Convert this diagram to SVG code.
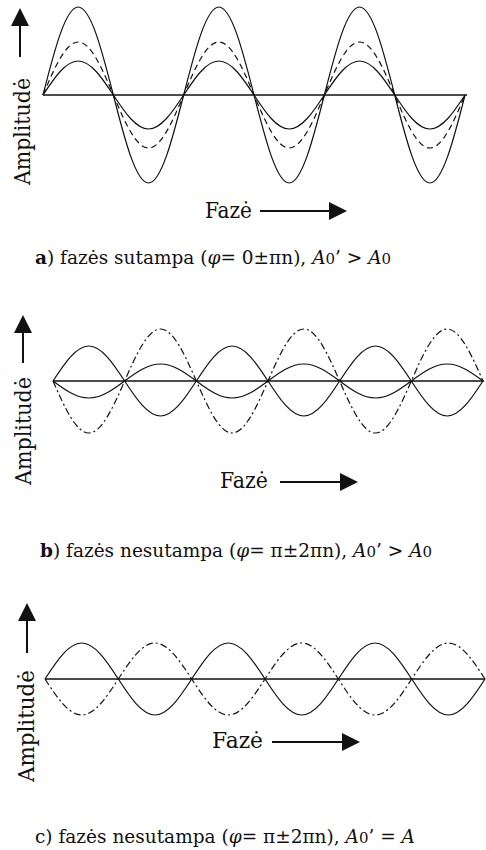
<svg xmlns="http://www.w3.org/2000/svg" width="486" height="850" viewBox="0 0 486 850">
<style>
text{font-family:"DejaVu Serif","Liberation Serif",serif;fill:#111}
.lbl{font-size:22px}
.cap{font-size:18.5px}
.sub{font-size:15px}
.w{fill:none;stroke:#111;stroke-width:1.2}
.dash{stroke-dasharray:6,4}
.dd{stroke-dasharray:7,3,2,3}
.axis{fill:none;stroke:#111;stroke-width:1.5}
.arr{fill:none;stroke:#111;stroke-width:2}
</style>
<defs>
<marker id="head" viewBox="0 0 18 18" refX="0" refY="9" markerWidth="18" markerHeight="18" markerUnits="userSpaceOnUse" orient="auto">
<path d="M0,0 L18,9 L0,18 z" fill="#111"/>
</marker>
</defs>
<rect width="486" height="850" fill="#fff"/>

<g id="panel-a">
<line class="axis" x1="43" y1="95" x2="467" y2="95"/>
<path class="w" d="M43,95 c11.46,-45.04 22.68,-88 35.17,-88 c12.49,0 23.71,42.96 35.17,88 c11.46,45.04 22.68,88 35.17,88 c12.49,0 23.71,-42.96 35.17,-88 c11.46,-45.04 22.68,-88 35.17,-88 c12.49,0 23.71,42.96 35.17,88 c11.46,45.04 22.68,88 35.17,88 c12.49,0 23.71,-42.96 35.17,-88 c11.46,-45.04 22.68,-88 35.17,-88 c12.49,0 23.71,42.96 35.17,88 c11.46,45.04 22.68,88 35.17,88 c12.49,0 23.71,-42.96 35.17,-88"/>
<path class="w dash" d="M43,95 c11.46,-27.13 22.68,-53 35.17,-53 c12.49,0 23.71,25.87 35.17,53 c11.46,27.13 22.68,53 35.17,53 c12.49,0 23.71,-25.87 35.17,-53 c11.46,-27.13 22.68,-53 35.17,-53 c12.49,0 23.71,25.87 35.17,53 c11.46,27.13 22.68,53 35.17,53 c12.49,0 23.71,-25.87 35.17,-53 c11.46,-27.13 22.68,-53 35.17,-53 c12.49,0 23.71,25.87 35.17,53 c11.46,27.13 22.68,53 35.17,53 c12.49,0 23.71,-25.87 35.17,-53"/>
<path class="w" d="M43,95 c11.46,-17.40 22.68,-34 35.17,-34 c12.49,0 23.71,16.60 35.17,34 c11.46,17.40 22.68,34 35.17,34 c12.49,0 23.71,-16.60 35.17,-34 c11.46,-17.40 22.68,-34 35.17,-34 c12.49,0 23.71,16.60 35.17,34 c11.46,17.40 22.68,34 35.17,34 c12.49,0 23.71,-16.60 35.17,-34 c11.46,-17.40 22.68,-34 35.17,-34 c12.49,0 23.71,16.60 35.17,34 c11.46,17.40 22.68,34 35.17,34 c12.49,0 23.71,-16.60 35.17,-34"/>
<text class="lbl" transform="translate(30,185) rotate(-90)" textLength="107" lengthAdjust="spacingAndGlyphs">Amplitudė</text>
<text class="lbl" x="205" y="218" textLength="47" lengthAdjust="spacingAndGlyphs">Fazė</text>
<text class="cap" x="35" y="264"><tspan font-weight="bold">a</tspan>) fazės sutampa (<tspan font-style="italic">φ</tspan>= 0±πn), <tspan font-style="italic">A</tspan><tspan class="sub">0</tspan>’ &gt; <tspan font-style="italic">A</tspan><tspan class="sub">0</tspan></text>
</g>

<g id="panel-b">
<line class="axis" x1="53" y1="381" x2="484" y2="381"/>
<path class="w" d="M53,381 c11.67,-17.91 23.11,-35 35.83,-35 c12.72,0 24.16,17.09 35.83,35 c11.67,17.91 23.11,35 35.83,35 c12.72,0 24.16,-17.09 35.83,-35 c11.67,-17.91 23.11,-35 35.83,-35 c12.72,0 24.16,17.09 35.83,35 c11.67,17.91 23.11,35 35.83,35 c12.72,0 24.16,-17.09 35.83,-35 c11.67,-17.91 23.11,-35 35.83,-35 c12.72,0 24.16,17.09 35.83,35 c11.67,17.91 23.11,35 35.83,35 c12.72,0 24.16,-17.09 35.83,-35"/>
<path class="w dd" d="M53,381 c11.67,26.61 23.11,52 35.83,52 c12.72,0 24.16,-25.39 35.83,-52 c11.67,-26.61 23.11,-52 35.83,-52 c12.72,0 24.16,25.39 35.83,52 c11.67,26.61 23.11,52 35.83,52 c12.72,0 24.16,-25.39 35.83,-52 c11.67,-26.61 23.11,-52 35.83,-52 c12.72,0 24.16,25.39 35.83,52 c11.67,26.61 23.11,52 35.83,52 c12.72,0 24.16,-25.39 35.83,-52 c11.67,-26.61 23.11,-52 35.83,-52 c12.72,0 24.16,25.39 35.83,52"/>
<path class="w" d="M53,381 c11.67,8.70 23.11,17 35.83,17 c12.72,0 24.16,-8.30 35.83,-17 c11.67,-8.70 23.11,-17 35.83,-17 c12.72,0 24.16,8.30 35.83,17 c11.67,8.70 23.11,17 35.83,17 c12.72,0 24.16,-8.30 35.83,-17 c11.67,-8.70 23.11,-17 35.83,-17 c12.72,0 24.16,8.30 35.83,17 c11.67,8.70 23.11,17 35.83,17 c12.72,0 24.16,-8.30 35.83,-17 c11.67,-8.70 23.11,-17 35.83,-17 c12.72,0 24.16,8.30 35.83,17"/>
<text class="lbl" transform="translate(31,485) rotate(-90)" textLength="108" lengthAdjust="spacingAndGlyphs">Amplitudė</text>
<text class="lbl" x="220" y="488" textLength="48" lengthAdjust="spacingAndGlyphs">Fazė</text>
<text class="cap" x="40" y="557"><tspan font-weight="bold">b</tspan>) fazės nesutampa (<tspan font-style="italic">φ</tspan>= π±2πn), <tspan font-style="italic">A</tspan><tspan class="sub">0</tspan>’ &gt; <tspan font-style="italic">A</tspan><tspan class="sub">0</tspan></text>
</g>

<g id="panel-c">
<line class="axis" x1="45" y1="679" x2="485" y2="679"/>
<path class="w" d="M45,679 c11.95,-18.42 23.65,-36 36.67,-36 c13.02,0 24.72,17.58 36.67,36 c11.95,18.42 23.65,36 36.67,36 c13.02,0 24.72,-17.58 36.67,-36 c11.95,-18.42 23.65,-36 36.67,-36 c13.02,0 24.72,17.58 36.67,36 c11.95,18.42 23.65,36 36.67,36 c13.02,0 24.72,-17.58 36.67,-36 c11.95,-18.42 23.65,-36 36.67,-36 c13.02,0 24.72,17.58 36.67,36 c11.95,18.42 23.65,36 36.67,36 c13.02,0 24.72,-17.58 36.67,-36"/>
<path class="w dd" d="M45,679 c11.95,18.42 23.65,36 36.67,36 c13.02,0 24.72,-17.58 36.67,-36 c11.95,-18.42 23.65,-36 36.67,-36 c13.02,0 24.72,17.58 36.67,36 c11.95,18.42 23.65,36 36.67,36 c13.02,0 24.72,-17.58 36.67,-36 c11.95,-18.42 23.65,-36 36.67,-36 c13.02,0 24.72,17.58 36.67,36 c11.95,18.42 23.65,36 36.67,36 c13.02,0 24.72,-17.58 36.67,-36 c11.95,-18.42 23.65,-36 36.67,-36 c13.02,0 24.72,17.58 36.67,36"/>
<text class="lbl" transform="translate(34,782) rotate(-90)" textLength="112" lengthAdjust="spacingAndGlyphs">Amplitudė</text>
<text class="lbl" x="212" y="748" textLength="51" lengthAdjust="spacingAndGlyphs">Fazė</text>
<text class="cap" x="35" y="843">c) fazės nesutampa (<tspan font-style="italic">φ</tspan>= π±2πn), <tspan font-style="italic">A</tspan><tspan class="sub">0</tspan>’ = <tspan font-style="italic">A</tspan></text>
</g>

<g id="connectors">
<line class="arr" x1="20" y1="57" x2="20" y2="26" marker-end="url(#head)"/>
<line class="arr" x1="260" y1="211" x2="329" y2="211" marker-end="url(#head)"/>
<line class="arr" x1="23" y1="363" x2="23" y2="333" marker-end="url(#head)"/>
<line class="arr" x1="280" y1="482" x2="340" y2="482" marker-end="url(#head)"/>
<line class="arr" x1="27" y1="653" x2="27" y2="621" marker-end="url(#head)"/>
<line class="arr" x1="272" y1="742" x2="342" y2="742" marker-end="url(#head)"/>
</g>
</svg>
